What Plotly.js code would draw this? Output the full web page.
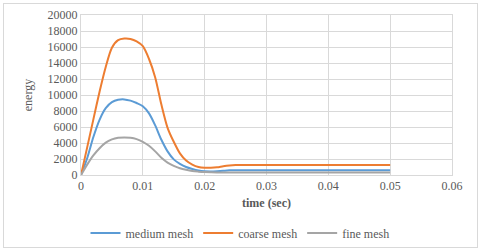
<!DOCTYPE html>
<html>
<head>
<meta charset="utf-8">
<script src="https://cdn.plot.ly/plotly-3.0.1.min.js"></script>
<style>
html,body{margin:0;padding:0;background:#fff;}
#wrap{position:relative;width:480px;height:252px;}
#chart{width:480px;height:252px;}
#frame{position:absolute;left:3px;top:3px;width:473px;height:243px;border:1px solid #d9d9d9;pointer-events:none;}
</style>
</head>
<body>
<div id="wrap"><div id="chart"></div><div id="frame"></div></div>
<script>
const time = [0,0.001,0.002,0.003,0.004,0.005,0.006,0.007,0.008,0.009,0.010,0.011,0.012,0.013,0.014,0.015,0.016,0.017,0.018,0.019,0.020,0.021,0.022,0.023,0.024,0.025,0.030,0.035,0.040,0.045,0.050];
const mediumMesh = [0,2100,4750,6900,8350,9100,9400,9450,9300,9000,8600,7700,6200,4400,2950,1950,1400,1000,750,560,470,450,480,530,580,600,600,600,600,600,600];
const coarseMesh = [0,3450,6950,10400,13500,15900,16850,17050,17000,16700,16100,14500,12200,8800,5900,4150,2700,1800,1300,1000,900,900,960,1100,1200,1250,1250,1250,1250,1250,1250];
const fineMesh = [0,1300,2450,3350,4050,4450,4650,4700,4650,4480,4150,3650,2950,2150,1550,1150,850,650,500,420,360,330,310,310,320,320,320,320,320,320,320];
const seriesNames = ['medium mesh','coarse mesh','fine mesh'];
const colors = ['#5B9BD5','#ED7D31','#A5A5A5'];

const font = '"Liberation Serif", serif';
const data = [mediumMesh, coarseMesh, fineMesh].map((y,i)=>({
  x: time, y: y, type:'scatter', mode:'lines', name: seriesNames[i],
  line:{color:colors[i], width:2, shape:'spline', smoothing:0.8}
}));

const layout = {
  width:480, height:252,
  margin:{l:81, r:28, t:15, b:77},
  paper_bgcolor:'#fff', plot_bgcolor:'#fff',
  font:{family:font, size:12, color:'#595959'},
  showlegend:true,
  legend:{orientation:'h', xref:'container', yref:'container', x:0.5, y:0.075, xanchor:'center', yanchor:'middle', font:{family:font,size:12,color:'#595959'}},
  xaxis:{range:[0,0.06], dtick:0.01, tick0:0, showgrid:true, gridcolor:'#d9d9d9', zeroline:false,
    showline:true, linecolor:'#d9d9d9', mirror:true, ticks:'',
    title:{text:'<b>time (sec)</b>', font:{family:font,size:12,color:'#595959'}, standoff:6},
    tickfont:{family:font,size:12,color:'#595959'}},
  yaxis:{range:[0,20000], dtick:2000, tick0:0, tickformat:'d', showgrid:true, gridcolor:'#d9d9d9', zeroline:false,
    showline:true, linecolor:'#d9d9d9', mirror:true, ticks:'',
    title:{text:'energy', font:{family:font,size:12,color:'#595959'}, standoff:12},
    tickfont:{family:font,size:12,color:'#595959'}}
};
Plotly.newPlot('chart', data, layout, {displayModeBar:false, staticPlot:true});
</script>
</body>
</html>
